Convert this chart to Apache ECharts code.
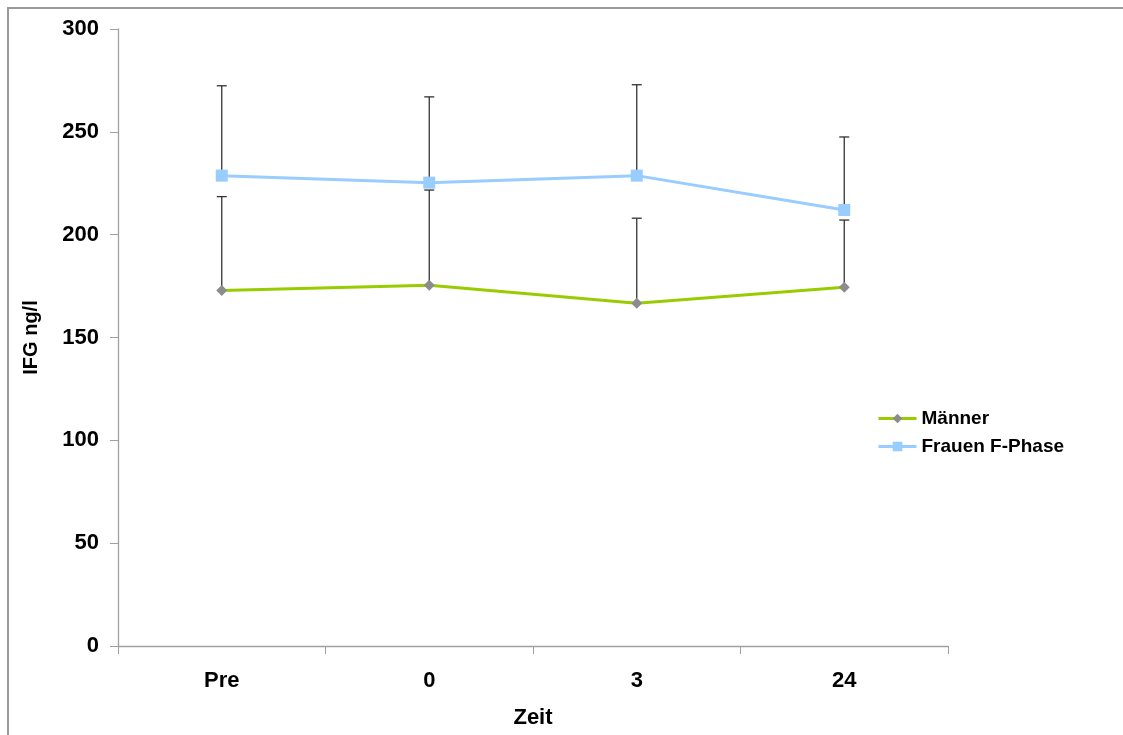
<!DOCTYPE html>
<html>
<head>
<meta charset="utf-8">
<script src="https://cdn.jsdelivr.net/npm/echarts@6/dist/echarts.min.js"></script>
<style>
html,body{margin:0;padding:0;background:#fff;}
#chart{width:1123px;height:735px;}
</style>
</head>
<body>
<div id="chart"></div>
<script>
const categories = ['Pre', '0', '3', '24'];
const maenner = [172.8, 175.4, 166.6, 174.4];
const maennerErr = [45.7, 46.3, 41.4, 32.7];
const frauen = [228.7, 225.3, 228.7, 212.0];
const frauenErr = [43.7, 41.7, 44.2, 35.5];
const yTicks = { min: 0, max: 300, interval: 50 };

const font = 'Liberation Sans, Arial, sans-serif';

function errorSeries(name, values, errs, z) {
  return {
    type: 'custom',
    name: name + ' err',
    z: z,
    silent: true,
    data: values.map((v, i) => [i, v, v + errs[i]]),
    renderItem: function (params, api) {
      const x = api.value(0);
      const lo = api.coord([x, api.value(1)]);
      const hi = api.coord([x, api.value(2)]);
      const half = 5;
      const style = { stroke: '#333', lineWidth: 1.3 };
      return {
        type: 'group',
        children: [
          { type: 'line', shape: { x1: lo[0], y1: lo[1], x2: hi[0], y2: hi[1] }, style: style },
          { type: 'line', shape: { x1: hi[0] - half, y1: hi[1], x2: hi[0] + half, y2: hi[1] }, style: style }
        ]
      };
    }
  };
}

const chart = echarts.init(document.getElementById('chart'));
chart.setOption({
  animation: false,
  backgroundColor: '#fff',
  graphic: [{
    type: 'rect',
    shape: { x: 8, y: 8, width: 1200, height: 1000 },
    style: { fill: 'none', stroke: '#9a9a9a', lineWidth: 2 },
    silent: true
  }],
  grid: { left: 118, right: 175, top: 29, bottom: 89, containLabel: false },
  legend: {
    orient: 'vertical',
    left: 877,
    top: 409,
    padding: 0,
    itemWidth: 38,
    itemHeight: 12,
    itemGap: 9,
    data: ['Männer', 'Frauen F-Phase'],
    lineStyle: { width: 3 },
    textStyle: { fontFamily: font, fontWeight: 'bold', fontSize: 19, color: '#000' }
  },
  xAxis: {
    type: 'category',
    data: categories,
    boundaryGap: true,
    name: 'Zeit',
    nameLocation: 'middle',
    nameGap: 61,
    nameTextStyle: { fontFamily: font, fontWeight: 'bold', fontSize: 22, color: '#000' },
    axisLine: { lineStyle: { color: '#a0a0a0', width: 1.3 } },
    axisTick: { show: true, length: 8, lineStyle: { color: '#a0a0a0' } },
    axisLabel: { margin: 24, fontFamily: font, fontWeight: 'bold', fontSize: 22, color: '#000' },
    splitLine: { show: false }
  },
  yAxis: {
    type: 'value',
    min: yTicks.min,
    max: yTicks.max,
    interval: yTicks.interval,
    name: 'IFG ng/l',
    nameLocation: 'middle',
    nameGap: 77,
    nameRotate: 90,
    nameTextStyle: { fontFamily: font, fontWeight: 'bold', fontSize: 20, color: '#000' },
    axisLine: { show: true, lineStyle: { color: '#a0a0a0', width: 1.3 } },
    axisTick: { show: true, length: 8, lineStyle: { color: '#a0a0a0' } },
    axisLabel: { margin: 19, fontFamily: font, fontWeight: 'bold', fontSize: 22, color: '#000' },
    splitLine: { show: false }
  },
  series: [
    errorSeries('Männer', maenner, maennerErr, 1),
    errorSeries('Frauen F-Phase', frauen, frauenErr, 1),
    {
      name: 'Männer',
      type: 'line',
      z: 3,
      data: maenner,
      symbol: 'diamond',
      symbolSize: 11,
      lineStyle: { color: '#99cc00', width: 3 },
      itemStyle: { color: '#8c8c8c' }
    },
    {
      name: 'Frauen F-Phase',
      type: 'line',
      z: 4,
      data: frauen,
      symbol: 'rect',
      symbolSize: 12,
      lineStyle: { color: '#99ccff', width: 3 },
      itemStyle: { color: '#99ccff' }
    }
  ]
});
</script>
</body>
</html>
